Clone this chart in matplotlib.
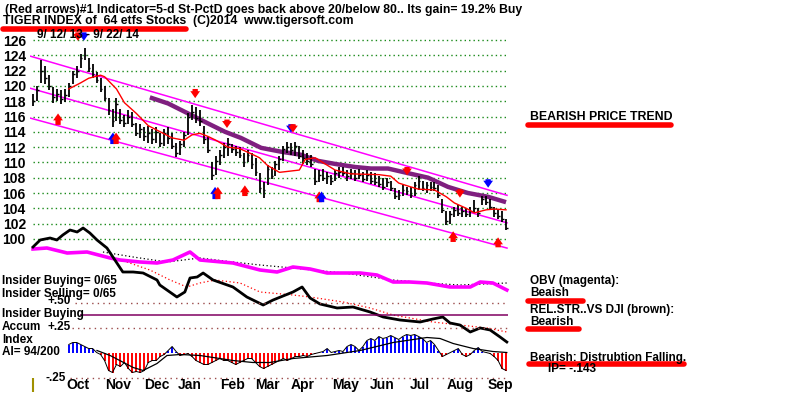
import matplotlib
matplotlib.use("Agg")
import matplotlib.pyplot as plt
from matplotlib.lines import Line2D
import numpy as np

# ---------------- data ----------------
price_ticks = [126, 124, 122, 120, 118, 116, 114, 112, 110, 108, 106, 104, 102, 100]

low = [117.4, 118.0, 120.4, 120.2, 119.4, 117.8, 118.0, 117.6, 117.9, 118.6,
       120.2, 121.0, 122.4, 123.4, 121.8, 121.0, 120.4, 119.2, 118.0, 116.2,
       114.6, 115.4, 115.0, 114.6, 115.0, 114.6, 113.4, 113.2, 112.8, 112.6,
       112.4, 112.6, 112.0, 112.2, 112.4, 111.8, 110.7, 111.0, 112.0, 113.6,
       115.6, 115.2, 114.8, 112.4, 111.2, 107.7, 108.4, 109.6, 110.6, 110.8,
       111.2, 110.8, 110.6, 109.4, 110.0, 109.2, 108.2, 106.0, 105.3, 107.0,
       107.8, 108.2, 109.0, 110.2, 111.2, 111.0, 110.8, 110.4, 109.8, 109.6,
       109.4, 107.0, 107.4, 107.6, 107.2, 107.0, 107.6, 108.0, 108.2, 107.6,
       107.8, 107.6, 107.8, 107.4, 107.6, 107.2, 107.0, 106.8, 106.4, 106.8,
       106.2, 105.2, 105.1, 105.6, 105.8, 105.4, 105.6, 106.4, 106.2, 106.0,
       106.2, 106.2, 105.4, 103.4, 101.8, 102.0, 102.8, 103.0, 102.8, 102.8,
       102.8, 103.4, 102.8, 104.4, 104.4, 103.8, 102.8, 102.6, 102.2, 101.2]
high = [119.0, 120.0, 123.4, 122.6, 121.4, 119.9, 119.6, 119.4, 119.6, 120.4,
        122.0, 122.6, 124.2, 124.9, 123.6, 122.8, 121.8, 121.0, 120.0, 118.4,
        117.0, 118.4, 117.0, 116.2, 116.8, 116.6, 115.2, 115.0, 114.6, 114.8,
        114.4, 114.6, 113.8, 114.4, 114.6, 113.8, 112.6, 112.8, 114.0, 116.4,
        117.5, 117.2, 116.8, 114.8, 113.4, 110.0, 110.8, 111.6, 112.6, 113.2,
        112.4, 112.2, 112.0, 111.2, 111.6, 111.2, 110.6, 108.6, 107.4, 109.6,
        109.4, 110.2, 110.8, 112.2, 112.7, 112.6, 112.7, 112.2, 111.6, 111.2,
        111.0, 109.2, 109.0, 109.2, 108.8, 108.4, 109.0, 109.4, 109.4, 109.0,
        109.2, 109.0, 109.2, 108.8, 109.0, 108.8, 108.6, 108.2, 108.0, 108.0,
        107.6, 106.6, 106.4, 107.0, 106.8, 106.8, 107.4, 108.2, 107.6, 107.4,
        107.4, 107.4, 107.0, 105.2, 103.6, 103.6, 104.2, 104.4, 104.2, 104.0,
        104.2, 105.1, 104.0, 105.6, 105.6, 105.2, 104.2, 103.8, 103.6, 102.6]
close = [118.0, 119.5, 122.0, 121.0, 120.0, 118.6, 119.0, 118.3, 118.8, 120.0,
         121.5, 122.0, 123.6, 124.0, 122.4, 121.6, 120.8, 119.6, 118.4, 116.8,
         115.4, 117.6, 115.6, 115.2, 116.0, 115.0, 113.8, 114.4, 113.4, 113.8,
         113.0, 114.0, 112.6, 113.8, 113.2, 112.2, 111.2, 112.4, 113.6, 116.0,
         116.6, 115.8, 115.4, 113.0, 111.6, 108.4, 110.2, 111.0, 112.0, 112.4,
         111.8, 111.4, 111.0, 110.0, 111.0, 109.8, 108.8, 106.6, 106.4, 109.2,
         108.2, 109.8, 110.4, 111.8, 112.0, 111.6, 112.2, 110.8, 110.6, 110.2,
         109.8, 107.6, 108.4, 108.0, 108.2, 107.6, 108.6, 108.8, 108.6, 108.2,
         108.6, 108.0, 108.4, 107.8, 108.4, 107.6, 107.4, 107.2, 106.8, 107.4,
         106.6, 105.6, 105.8, 106.4, 106.2, 105.8, 107.0, 107.6, 106.6, 107.0,
         106.8, 106.6, 105.8, 103.8, 102.4, 103.2, 103.8, 103.4, 103.6, 103.2,
         103.6, 104.0, 103.4, 105.2, 104.8, 104.2, 103.4, 103.0, 102.6, 101.4]

# short moving average (red)
ma_x = [9, 12, 14, 17, 18, 21, 23, 26, 29, 32, 35, 38, 40, 42, 44, 46, 49, 52, 55, 57,
        59, 62, 67, 68.5, 71, 73.5, 76, 80, 87, 90, 92, 95, 97, 101, 104, 106, 109, 111,
        114, 116, 119]
ma_y = [119.6, 120.4, 121.0, 121.4, 121.2, 119.6, 117.8, 116.4, 114.8, 114.0, 113.2,
        112.9, 113.6, 113.8, 113.4, 112.9, 112.0, 111.8, 111.1, 110.6, 109.6, 108.7,
        109.0, 110.4, 110.6, 109.8, 109.0, 108.5, 108.4, 108.2, 107.3, 106.8, 106.5,
        106.4, 105.5, 104.7, 104.0, 103.4, 103.8, 103.9, 103.8]

# long moving average (purple)
lma_x = [29.4, 34.0, 39.0, 44.0, 48.3, 52.3, 57.4, 62.4, 67.4, 71.7, 76.0, 81.0, 85.0,
         89.3, 94.3, 99.4, 104.4, 109.4, 114.5, 119.0]
lma_y = [118.5, 117.7, 116.4, 115.1, 114.0, 113.2, 111.9, 111.4, 111.0, 110.2, 109.8,
         109.4, 109.2, 109.2, 108.6, 108.0, 106.8, 106.0, 105.5, 104.8]

# price channel (magenta) : start/end x, start/end values
chan_x = [-0.75, 119.25]
chan_top = [123.9, 105.7]
chan_mid = [119.7, 102.1]
chan_bot = [115.8, 98.8]

# signal arrows
arrow_x = [11.3, 12.8, 6.3, 20.1, 20.9, 40.8, 48.8, 45.8, 46.5, 53.3, 64.9, 65.4,
           72.0, 72.6, 94.1, 107.4, 114.5, 105.7, 117.0]
arrow_tail = [127.0, 127.0, 114.9, 112.4, 112.4, 119.6, 115.6, 105.2, 105.2, 105.6,
              115.0, 115.0, 104.8, 104.8, 109.4, 106.5, 107.8, 99.6, 98.9]
arrow_tip = [125.9, 125.9, 116.4, 113.9, 113.9, 118.4, 114.5, 106.8, 106.8, 107.0,
             113.9, 113.9, 106.2, 106.2, 108.3, 105.4, 106.7, 101.0, 100.2]
arrow_col = ['red', 'blue', 'red', 'blue', 'red', 'red', 'red', 'blue', 'red', 'red',
             'blue', 'red', 'red', 'blue', 'red', 'red', 'blue', 'red', 'red']

# relative strength vs DJI (black)
rs_x = [0, 1.8, 4.3, 6.0, 7.5, 9.3, 11.1, 12.6, 14.3, 16.1, 18.6, 20.1, 22.6, 25.2, 27.7,
        31.2, 31.9, 36.2, 38.2, 39.5, 41.3, 42.8, 45.3, 50.3, 53.8, 57.9, 60.4, 65.4,
        67.7, 69.7, 72.2, 76.5, 80.5, 84.8, 88.1, 92.3, 97.4, 100.6, 103.1, 104.9,
        107.4, 110.0, 112.5, 115.0, 117.5, 119.2]
rs_y = [103, 110, 112, 110, 115, 120, 118, 122, 117, 110, 102, 93, 78, 78, 77, 70, 65,
        53, 58, 72, 73, 77, 70, 63, 53, 45, 50, 58, 63, 52, 46, 42, 43, 38, 33, 30, 28,
        31, 33, 27, 25, 18, 22, 20, 13, 8]
rsma_x = [23.6, 29.4, 34.5, 38.7, 42.0, 45.8, 52.1, 57.1, 65.4, 69.7, 78.0, 84.8, 90.6,
          94.8, 100.6, 107.4, 114.2, 119.2]
rsma_y = [88, 80, 70, 63, 67, 70, 67, 58, 55, 53, 48, 42, 35, 32, 28, 25, 22, 18]

# OBV (magenta) and its average (black dotted)
obv_x = [0, 3.5, 8.6, 13.6, 19.4, 21.9, 26.9, 31.2, 35.2, 39.5, 42.0, 50.3, 57.1, 61.4,
         65.4, 69.7, 74.0, 82.3, 86.5, 90.6, 94.8, 99.1, 104.9, 110.0, 112.5, 115.7, 119.2]
obv_y = [101, 102, 97, 98, 92, 90, 88, 87, 90, 98, 90, 87, 80, 78, 83, 81, 77, 77, 75,
         68, 68, 67, 63, 63, 68, 67, 60]
obvma_x = [17.6, 25.2, 33.7, 42.0, 50.3, 57.1, 65.4, 78.0, 90.6, 99.1, 107.4, 119.2]
obvma_y = [98, 93, 88, 92, 88, 85, 82, 77, 70, 67, 65, 67]

# Accumulation index (histogram) and its average
ai = [np.nan] * 9 + [
    0.08, 0.10, 0.10, 0.08, 0.06, 0.04, 0.04, 0.00, -0.02, -0.08,
    -0.18, -0.20, -0.12, -0.14, -0.10, -0.16, -0.20, -0.19, -0.20, -0.18,
    -0.10, -0.08, -0.08, -0.04, -0.02, 0.02, 0.06, 0.01, -0.03, -0.02,
    -0.01, -0.04, -0.08, -0.10, -0.12, -0.12, -0.10, -0.08, -0.06, -0.08,
    -0.08, -0.10, -0.12, -0.10, -0.08, -0.06, -0.06, -0.10, -0.14, -0.16,
    -0.14, -0.12, -0.10, -0.08, -0.06, -0.08, -0.06, -0.04, -0.04, -0.03,
    -0.04, -0.02, -0.01, 0.00, 0.01, 0.04, 0.00, 0.01, 0.02, 0.01,
    0.06, 0.08, 0.06, 0.02, 0.06, 0.12, 0.14, 0.12, 0.16, 0.14,
    0.15, 0.17, 0.15, 0.13, 0.16, 0.18, 0.17, 0.18, 0.16, 0.14,
    0.10, 0.12, 0.08, 0.02, -0.04, -0.02, 0.00, 0.02, 0.04, -0.02,
    -0.04, -0.02, 0.02, 0.05, 0.01, 0.00, -0.01, -0.04, -0.08, -0.16, -0.18]
aima_x = [16.1, 19.4, 25.2, 27.7, 31.2, 33.7, 37.0, 42.0, 50.3, 55.3, 59.6, 65.4, 74.0,
          82.3, 90.6, 99.1, 102.4, 105.7, 110.7, 115.7, 119.2]
aima_y = [0.02, -0.03, -0.15, -0.18, -0.11, -0.03, -0.02, -0.03, -0.08, -0.10, -0.10,
          -0.06, -0.03, 0.02, 0.10, 0.15, 0.14, 0.09, 0.04, 0.01, 0.00]
insider_line = 0.375
ai_levels = [0.50, 0.25, -0.25]
ai_level_start = [10.6, 9.8, 9.3]

months = ['Oct', 'Nov', 'Dec', 'Jan', 'Feb', 'Mar', 'Apr', 'May', 'Jun', 'Jul', 'Aug', 'Sep']
month_x = [11.3, 21.4, 31.2, 39.5, 50.1, 59.1, 67.9, 78.7, 87.8, 97.4, 107.4, 117.5]

# ---------------- figure ----------------
W, H = 800, 395
fig = plt.figure(figsize=(W / 100, H / 100), dpi=100)
fig.patch.set_facecolor('white')
FONT = 'Liberation Sans'

def fx(px):
    return px / W

def fy(py):
    return 1 - py / H

def px2i(px):
    return (px - 33) / 3.975

X0, X1 = 30, 520
xlim = (px2i(X0), px2i(X1))

def make_ax(top, bottom, ylim):
    ax = fig.add_axes([fx(X0), fy(bottom), fx(X1) - fx(X0), (bottom - top) / H])
    ax.set_xlim(*xlim)
    ax.set_ylim(*ylim)
    ax.patch.set_alpha(0)
    for s in ax.spines.values():
        s.set_visible(False)
    ax.set_xticks([])
    ax.set_yticks([])
    return ax

# price axes: 126 at py 40, 7.65 px per unit
PPU = 7.65
ptop, pbot = 20, 262
axp = make_ax(ptop, pbot, (126 - (pbot - 40) / PPU, 126 + (40 - ptop) / PPU))

n = len(close)
idx = np.arange(n)
axp.hlines(price_ticks, 0, n - 0.5, colors='#1a8a1a', linestyles=(0, (1, 2.2)), lw=1.0, zorder=1)
axp.set_yticks(price_ticks)
axp.set_yticklabels([str(t) for t in price_ticks], fontfamily=FONT, fontweight='bold', fontsize=10)
axp.tick_params(axis='y', length=0, pad=3)

for yv in (chan_top, chan_mid, chan_bot):
    axp.plot(chan_x, yv, color='#ff00ff', lw=1.1, zorder=2)
axp.plot(lma_x, lma_y, color='#7f1f7f', lw=3.2, zorder=3, solid_capstyle='butt')
axp.vlines(idx, low, high, colors='black', lw=1.3, zorder=4)
axp.hlines(close, idx, idx + 0.45, colors='black', lw=1.0, zorder=4)
axp.plot(ma_x, ma_y, color='red', lw=1.0, zorder=5)

for x, t0, t1, c in zip(arrow_x, arrow_tail, arrow_tip, arrow_col):
    axp.annotate('', xy=(x, t1), xytext=(x, t0),
                 arrowprops=dict(arrowstyle='simple,head_length=0.5,head_width=0.7,tail_width=0.38',
                                 color=c, mutation_scale=10, shrinkA=0, shrinkB=0, lw=0),
                 zorder=6)

# indicator axes: value = 350 - py
axi = make_ax(225, 350, (0, 125))
axi.plot(obvma_x, obvma_y, color='black', lw=0.9, ls=(0, (1, 2)), zorder=2)
axi.plot(obv_x, obv_y, color='#ff00ff', lw=2.6, zorder=3)
axi.plot(rsma_x, rsma_y, color='red', lw=0.9, ls=(0, (1, 2)), zorder=2)
axi.plot(rs_x, rs_y, color='black', lw=2.0, zorder=4)

# accumulation index axes: 0 at py 352.5, 0.01 per px
axa = make_ax(285, 392, ((352.5 - 392) / 100, (352.5 - 285) / 100))
for lv, st in zip(ai_levels, ai_level_start):
    axa.hlines(lv, st, n - 0.5, colors='#9a4a4a', linestyles=(0, (1, 3)), lw=1.0)
axa.hlines(insider_line, px2i(80), n - 0.5, colors='#800060', lw=1.1)
aiv = np.array(ai, dtype=float)
pos = np.where(aiv > 0, aiv, np.nan)
neg = np.where(aiv < 0, aiv, np.nan)
axa.vlines(idx, 0, pos, colors='blue', lw=1.4)
axa.vlines(idx, neg, 0, colors='red', lw=1.4)
axa.plot(idx, aiv, color='black', lw=0.7)
axa.plot(aima_x, aima_y, color='black', lw=0.9)
for m, mx in zip(months, month_x):
    axa.text(mx, -0.325, m, ha='center', va='center', fontfamily=FONT,
             fontweight='bold', fontsize=10)
axa.vlines(0, -0.25, -0.39, colors='#a09000', lw=1.5)

# ---------------- texts ----------------
def T(x, y, s, size=8.5, color='black', ha='left', **kw):
    fig.text(fx(x), fy(y), s, fontsize=size, color=color, ha=ha, va='center',
             fontfamily=FONT, fontweight='bold', **kw)

def U(x0, x1, y, lw=4):
    fig.add_artist(Line2D([fx(x0), fx(x1)], [fy(y), fy(y)], color='red', lw=lw,
                          solid_capstyle='round', transform=fig.transFigure))

T(5, 10, '(Red arrows)#1 Indicator=5-d St-PctD goes back above 20/below 80.. Its gain= 19.2% Buy', size=8.8)
T(3, 21, 'TIGER INDEX of  64 etfs Stocks  (C)2014  www.tigersoft.com', size=8.8)
U(3, 186, 28.5)
T(37, 35, '9/ 12/ 13 - 9/ 22/ 14', size=8.5)

T(530, 117, 'BEARISH PRICE TREND', size=8.8)
U(528, 671, 125.5)
T(530, 281, 'OBV (magenta):')
T(530, 293, 'Beaish')
U(528, 583, 301)
T(530, 310, 'REL.STR..VS DJI (brown):')
T(530, 322, 'Bearish')
U(528, 579, 328.5)
T(548, 369, 'IP= -.143')
T(530, 358, 'Bearish: Distrubtion Falling.', size=8.4)
U(529, 684, 363.5)

T(2, 281, 'Insider Buying= 0/65')
T(2, 294, 'Insider Selling= 0/65')
T(47, 301, '+.50')
T(2, 314, 'Insider Buying')
T(2, 327, 'Accum')
T(47, 327, '+.25')
T(2, 340, 'Index')
T(2, 352, 'AI= 94/200')
T(45, 378, '-.25')

fig.savefig('out.png', dpi=100, facecolor='white')
